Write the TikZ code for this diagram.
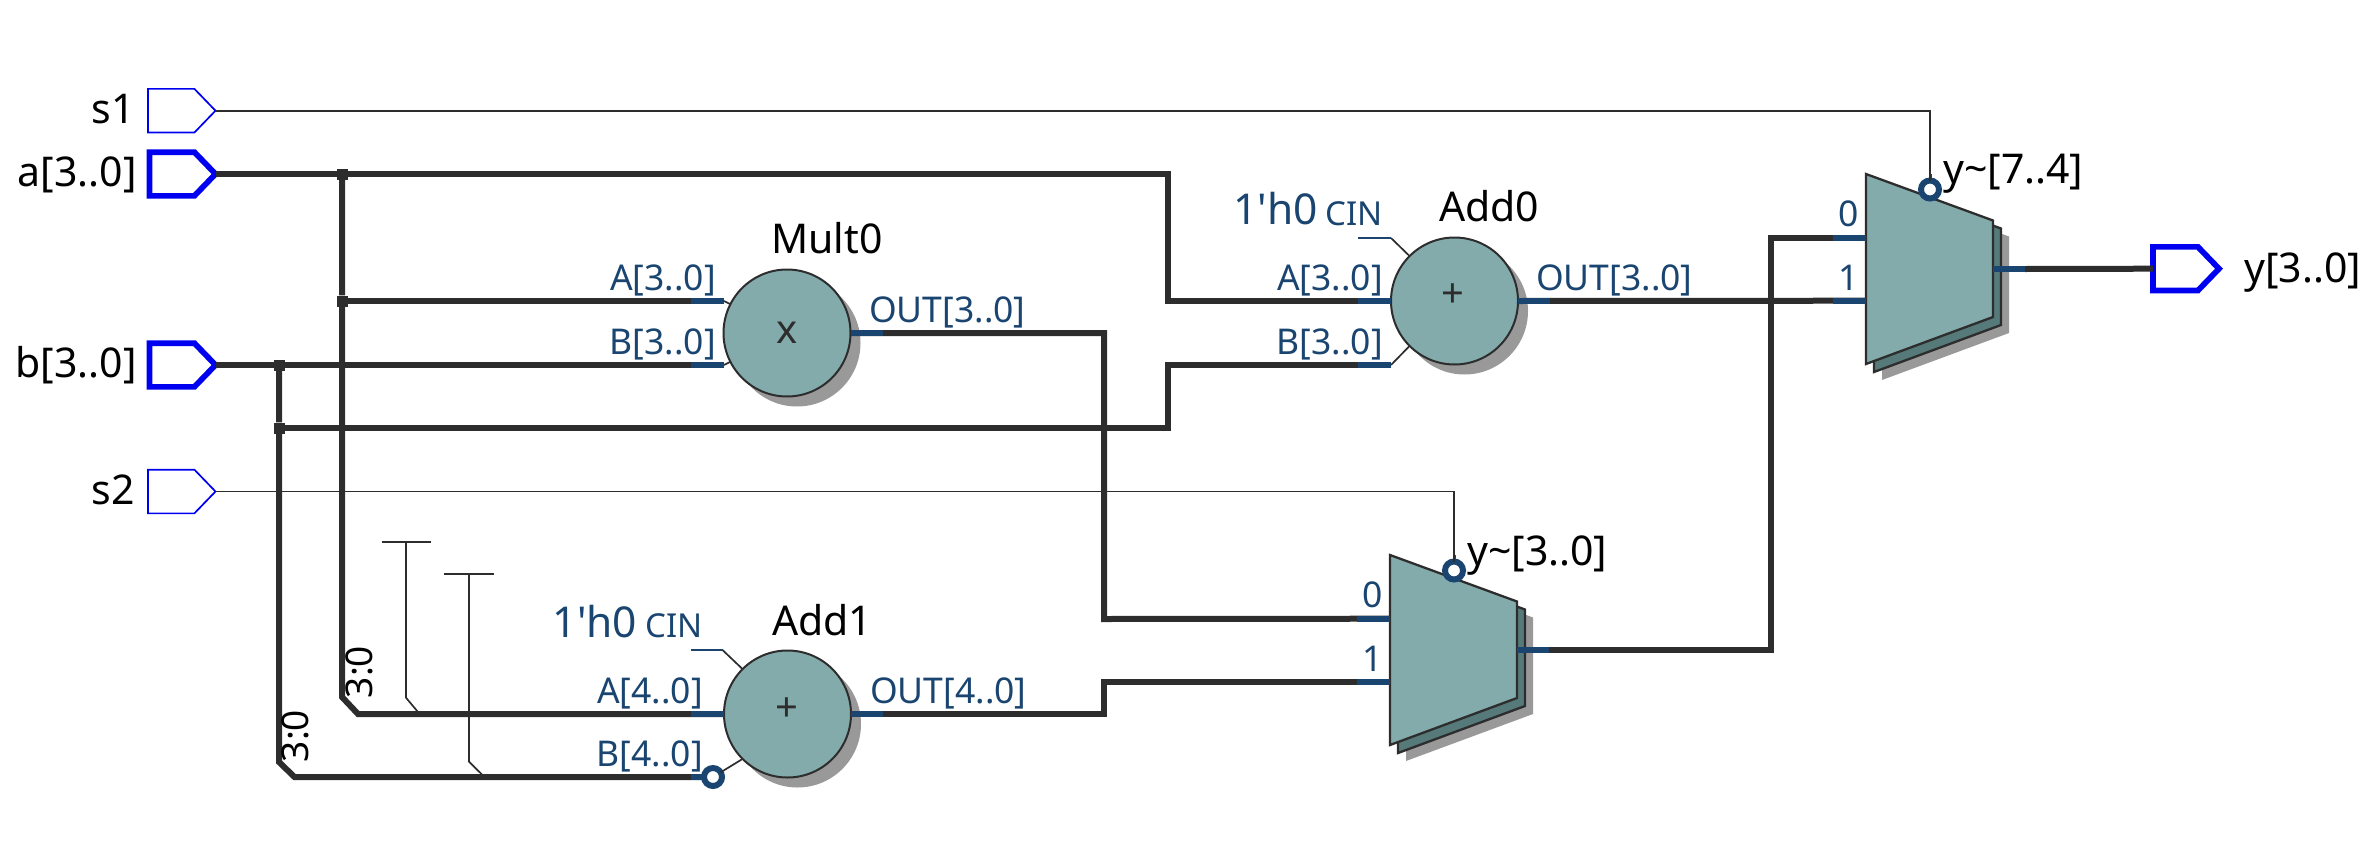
\documentclass[tikz,border=0pt]{standalone}
\usepackage{fontspec}
\setmainfont{Noto Sans}
\usetikzlibrary{shapes.symbols,shadows}
\definecolor{wirecol}{HTML}{2D2D2D}
\definecolor{stubcol}{HTML}{1A4570}
\definecolor{pincol}{HTML}{0000F0}
\definecolor{opcol}{HTML}{84ABAC}
\definecolor{backcol}{HTML}{56797A}
\definecolor{shadecol}{HTML}{999999}
\tikzset{
	wire/.style={draw=wirecol,line width=6},
	thinwire/.style={draw=wirecol,line width=1.7},
	outline/.style={draw=wirecol,line width=2.3},
	stub/.style={draw=stubcol,line width=6},
	thinstub/.style={draw=stubcol,line width=1.7},
	pinin/.style={signal,signal to=east,signal pointer angle=92,draw=pincol,fill=white,inner sep=0,outer sep=0,minimum width=67.5,minimum height=43.7,anchor=west,line width=1.7},
	pinbus/.style={pinin,line width=5.7,minimum width=66},
	junct/.style={rectangle,fill=wirecol,inner sep=0,minimum size=11},
	opcircle/.style={circle,draw=wirecol,fill=opcol,inner sep=0,outer sep=0,minimum size=127,line width=2,drop shadow={shadow xshift=10,shadow yshift=10,opacity=1,fill=shadecol}},
	bubble/.style={circle,draw=stubcol,fill=white,inner sep=0,outer sep=0,minimum size=18,line width=6},
	netlab/.style={inner sep=0,text=black,font=\fontsize{41}{48}\selectfont},
	portlab/.style={inner sep=0,text=stubcol,font=\fontsize{35.5}{42}\selectfont},
	cinlab/.style={inner sep=0,text=stubcol,font=\fontsize{33}{37}\selectfont},
	constlab/.style={inner sep=0,text=stubcol,font=\fontsize{42.5}{48}\selectfont},
	oplab/.style={inner sep=0,text=wirecol,font=\fontsize{40}{48}\selectfont},
	bitlab/.style={inner sep=0,text=black,rotate=90,font=\fontsize{37}{42}\selectfont},
	pics/muxbody/.style={code={
		\fill[shadecol] (16,16) -- (143,62.5) -- (143,159) -- (16,206) -- cycle;
		\draw[outline,fill=backcol] (8,8) -- (135,54.5) -- (135,151) -- (8,198) -- cycle;
		\draw[outline,fill=opcol] (0,0) -- (127,46.5) -- (127,143) -- (0,190) -- cycle;
		\coordinate (-in0) at (0,63.7);
		\coordinate (-in1) at (0,126.7);
		\coordinate (-out) at (127,95);
		\node[portlab,anchor=base east] (-lab0) at (-7,52) {0};
		\node[portlab,anchor=base east] (-lab1) at (-7,116) {1};
		\draw[stub,line width=3] (64,0) -- (64,8);
		\node[bubble] (-sel) at (64,15.5) {};
	}},
}
\begin{document}
\begin{tikzpicture}[x=1pt,y=-1pt]
	\useasboundingbox (0,0) rectangle (2378,846);
	
	% input and output pins
	\node[pinin] (s1) at (148,110.7) {};
	\node[pinbus] (a) at (149.5,174) {};
	\node[pinbus] (b) at (149.5,365) {};
	\node[pinin] (s2) at (148,491.5) {};
	\node[netlab,anchor=base east] (s1lab) at (135,123) {s1};
	\node[netlab,anchor=base east] (alab) at (137,186.5) {a[3..0]};
	\node[netlab,anchor=base east] (blab) at (137,377.5) {b[3..0]};
	\node[netlab,anchor=base east] (s2lab) at (135,504) {s2};
	
	% operators
	\node[opcircle] (mult0) at (787,333) {};
	\node[opcircle] (add0) at (1454.5,301) {};
	\node[opcircle] (add1) at (787.5,714) {};
	\node[oplab] (mult0op) at (787,333) {x};
	\node[oplab] (add0op) at (1453,296) {+};
	\node[oplab] (add1op) at (787,710) {+};
	
	% muxes
	\pic (muxtop) at (1866,174) {muxbody};
	\pic (muxlow) at (1390,555) {muxbody};
	
	% ports and bends
	\coordinate (mult0a) at (724,301);
	\coordinate (mult0b) at (724,365);
	\coordinate (add0b) at (1391,365);
	\coordinate (add1b) at (724,777);
	\coordinate (abend) at (1168,301);
	\coordinate (bbend) at (1168,365);
	\coordinate (multdrop) at (1104,619);
	\coordinate (add1up) at (1104,681.7);
	\coordinate (lowrise) at (1771,237.7);
	\coordinate (abusend) at (342,697);
	\coordinate (abusout) at (358,714);
	\coordinate (bbusend) at (279,762);
	\coordinate (bbusout) at (294.5,777);
	
	% junctions
	\node[junct] (ja1) at (342,174) {};
	\node[junct] (ja2) at (342,301) {};
	\node[junct] (jb1) at (279,365) {};
	\node[junct] (jb2) at (279,428) {};
	
	% buses
	\draw[wire] (a.east) -| (abend) -- (add0.west);
	\draw[wire] (ja1) -- (ja2) -- (abusend) -- (abusout) -- (add1.west);
	\draw[wire] (ja2) -- (mult0a);
	\draw[wire] (b.east) -- (mult0b);
	\draw[wire] (jb1) -- (jb2) -- (bbusend) -- (bbusout) -- (add1b);
	\draw[wire] (jb2) -| (bbend) -- (add0b);
	\draw[wire] (mult0.east) -| (multdrop) -- (muxlow-in0);
	\draw[wire] (add1.east) -| (add1up) -- (muxlow-in1);
	\draw[wire] (add0.east) -- (muxtop-in1);
	\draw[wire] (muxlow-out) -| (lowrise) -- (muxtop-in0);
	
	% select lines
	\draw[thinwire] (s1.east) -| (muxtop-sel.north);
	\draw[thinwire] (s2.east) -| (muxlow-sel.north);
	
	% stubs at the ports
	\foreach \p in {mult0a,mult0b,add0.west,add0b,add1.west,add1b,muxtop-in0,muxtop-in1,muxlow-in0,muxlow-in1}
		\draw[stub] (\p) -- ++(-33,0);
	\foreach \p in {mult0.east,add0.east,add1.east,muxlow-out,muxtop-out}
		\draw[stub] (\p) -- ++(32,0);
	
	% output pin
	\node[pinbus] (y) at (2153,268.7) {};
	\draw[wire] (muxtop-out) ++(32,0) -- (y.west);
	\node[netlab,anchor=base west] (ylab) at (2244,282) {y[3..0]};
	
	% thin stubs into the circles
	\draw[thinwire] (mult0a) -- (mult0.153);
	\draw[thinwire] (mult0b) -- (mult0.207);
	\draw[thinwire] (add0b) -- (add0.225);
	
	% carry in
	\coordinate (add0cinl) at (1358,238);
	\coordinate (add0cinr) at (1391,238);
	\coordinate (add1cinl) at (691,650);
	\coordinate (add1cinr) at (722.5,650);
	\draw[thinstub] (add0cinl) -- (add0cinr);
	\draw[thinwire] (add0cinr) -- (add0.135);
	\draw[thinstub] (add1cinl) -- (add1cinr);
	\draw[thinwire] (add1cinr) -- (add1.135);
	\node[bubble] (add1bub) at (713,777) {};
	\draw[thinwire] (add1bub) -- (add1.225);
	
	% constant bits
	\coordinate (tiealeft) at (381.5,542);
	\coordinate (tiearight) at (431,542);
	\coordinate (tieatop) at (406,542);
	\coordinate (tieaknee) at (406,697.7);
	\coordinate (tieaend) at (418,712);
	\coordinate (tiebleft) at (444,574);
	\coordinate (tiebright) at (494,574);
	\coordinate (tiebtop) at (469,574);
	\coordinate (tiebknee) at (469,761.7);
	\coordinate (tiebend) at (482.5,775);
	\draw[thinwire] (tiealeft) -- (tiearight);
	\draw[thinwire] (tieatop) -- (tieaknee) -- (tieaend);
	\draw[thinwire] (tiebleft) -- (tiebright);
	\draw[thinwire] (tiebtop) -- (tiebknee) -- (tiebend);
	
	% labels
	\node[netlab,anchor=base east] (mult0lab) at (883,253) {Mult0};
	\node[netlab,anchor=base west] (add0lab) at (1439,221) {Add0};
	\node[netlab,anchor=base west] (add1lab) at (772,635) {Add1};
	\node[portlab,anchor=base east] (mult0alab) at (716,290) {A[3..0]};
	\node[portlab,anchor=base east] (mult0blab) at (716,354) {B[3..0]};
	\node[portlab,anchor=base west] (mult0olab) at (869,322) {OUT[3..0]};
	\node[portlab,anchor=base east] (add0alab) at (1383,290) {A[3..0]};
	\node[portlab,anchor=base east] (add0blab) at (1383,354) {B[3..0]};
	\node[portlab,anchor=base west] (add0olab) at (1536,290) {OUT[3..0]};
	\node[portlab,anchor=base east] (add1alab) at (703,703.5) {A[4..0]};
	\node[portlab,anchor=base east] (add1blab) at (703,766) {B[4..0]};
	\node[portlab,anchor=base west] (add1olab) at (870,703) {OUT[4..0]};
	\node[constlab,anchor=base west] (add0const) at (1233,224) {1\textquotesingle h0};
	\node[cinlab,anchor=base east] (add0cinlab) at (1383,225) {CIN};
	\node[constlab,anchor=base west] (add1const) at (552.5,637) {1\textquotesingle h0};
	\node[cinlab,anchor=base east] (add1cinlab) at (703,637.5) {CIN};
	\node[netlab,anchor=base west] (muxtoplab) at (1943,183) {y\char`\~[7..4]};
	\node[netlab,anchor=base west] (muxlowlab) at (1467,565.5) {y\char`\~[3..0]};
	\node[bitlab] (bita) at (359,672) {3:0};
	\node[bitlab] (bitb) at (295,736) {3:0};
\end{tikzpicture}
\end{document}
